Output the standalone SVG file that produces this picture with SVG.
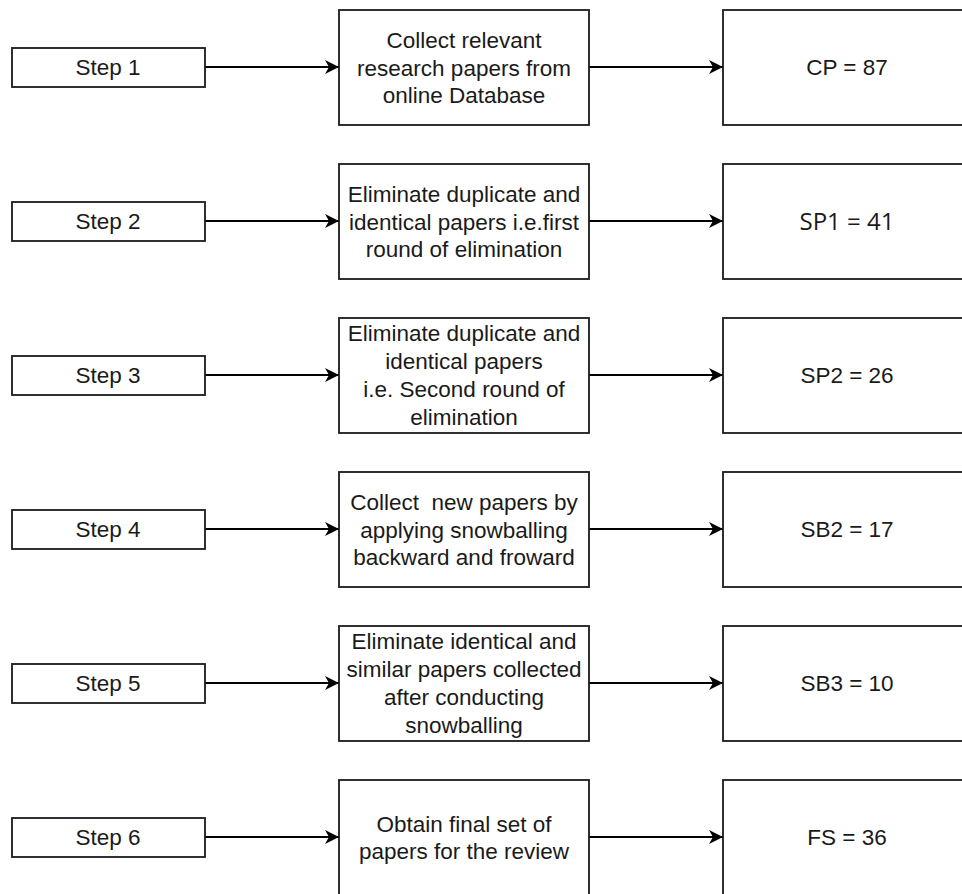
<svg xmlns="http://www.w3.org/2000/svg" width="962" height="894" viewBox="0 0 962 894">
<defs>
<marker id="arr" markerUnits="userSpaceOnUse" markerWidth="18" markerHeight="18" viewBox="-16 -9 18 18" refX="0" refY="0" orient="auto">
<path d="M0,0 L-14,-7 L-10,0 L-14,7 Z" fill="#000"/>
</marker>
</defs>
<style>
rect{fill:#fff;stroke:#1a1a1a;stroke-width:1.8}
text{font-family:"Liberation Sans",Arial,sans-serif;font-size:22.5px;fill:#1a1a1a;text-anchor:middle}
.c{font-family:"Open Sans","Noto Sans",sans-serif;font-size:24px}
#connectors path{stroke:#000;stroke-width:1.8;fill:none;marker-end:url(#arr)}
</style>
<g id="connectors">
<path d="M205,67 H339"/><path d="M589,67 H723"/>
<path d="M205,221 H339"/><path d="M589,221 H723"/>
<path d="M205,375 H339"/><path d="M589,375 H723"/>
<path d="M205,529 H339"/><path d="M589,529 H723"/>
<path d="M205,683 H339"/><path d="M589,683 H723"/>
<path d="M205,837 H339"/><path d="M589,837 H723"/>
</g>
<g id="step1"><rect x="12" y="48" width="193" height="39"/><text x="108" y="75">Step 1</text></g>
<g id="step2"><rect x="12" y="202" width="193" height="39"/><text x="108" y="229">Step 2</text></g>
<g id="step3"><rect x="12" y="356" width="193" height="39"/><text x="108" y="383">Step 3</text></g>
<g id="step4"><rect x="12" y="510" width="193" height="39"/><text x="108" y="537">Step 4</text></g>
<g id="step5"><rect x="12" y="664" width="193" height="39"/><text x="108" y="691">Step 5</text></g>
<g id="step6"><rect x="12" y="818" width="193" height="39"/><text x="108" y="845">Step 6</text></g>

<g id="task1"><rect x="339" y="10" width="250" height="115"/>
<text x="464" y="48">Collect relevant</text><text x="464" y="76">research papers from</text><text x="464" y="103">online Database</text></g>
<g id="task2"><rect x="339" y="164" width="250" height="115"/>
<text x="464" y="202">Eliminate duplicate and</text><text x="464" y="230">identical papers i.e.first</text><text x="464" y="257">round of elimination</text></g>
<g id="task3"><rect x="339" y="318" width="250" height="115"/>
<text x="464" y="341">Eliminate duplicate and</text><text x="464" y="369">identical papers</text><text x="464" y="397">i.e. Second round of</text><text x="464" y="425">elimination</text></g>
<g id="task4"><rect x="339" y="472" width="250" height="115"/>
<text x="464" y="510" xml:space="preserve">Collect  new papers by</text><text x="464" y="538">applying snowballing</text><text x="464" y="565">backward and froward</text></g>
<g id="task5"><rect x="339" y="626" width="250" height="115"/>
<text x="464" y="649">Eliminate identical and</text><text x="464" y="677">similar papers collected</text><text x="464" y="705">after conducting</text><text x="464" y="733">snowballing</text></g>
<g id="task6"><rect x="339" y="780" width="250" height="125"/>
<text x="464" y="832">Obtain final set of</text><text x="464" y="859">papers for the review</text></g>

<g id="res1"><rect x="723" y="10" width="250" height="115"/><text x="847" y="75">CP = 87</text></g>
<g id="res2"><rect x="723" y="164" width="250" height="115"/><text class="c" x="847" y="230">SP1 = 41</text></g>
<g id="res3"><rect x="723" y="318" width="250" height="115"/><text x="847" y="383">SP2 = 26</text></g>
<g id="res4"><rect x="723" y="472" width="250" height="115"/><text x="847" y="537">SB2 = 17</text></g>
<g id="res5"><rect x="723" y="626" width="250" height="115"/><text x="847" y="691">SB3 = 10</text></g>
<g id="res6"><rect x="723" y="780" width="250" height="125"/><text x="847" y="845">FS = 36</text></g>
</svg>
